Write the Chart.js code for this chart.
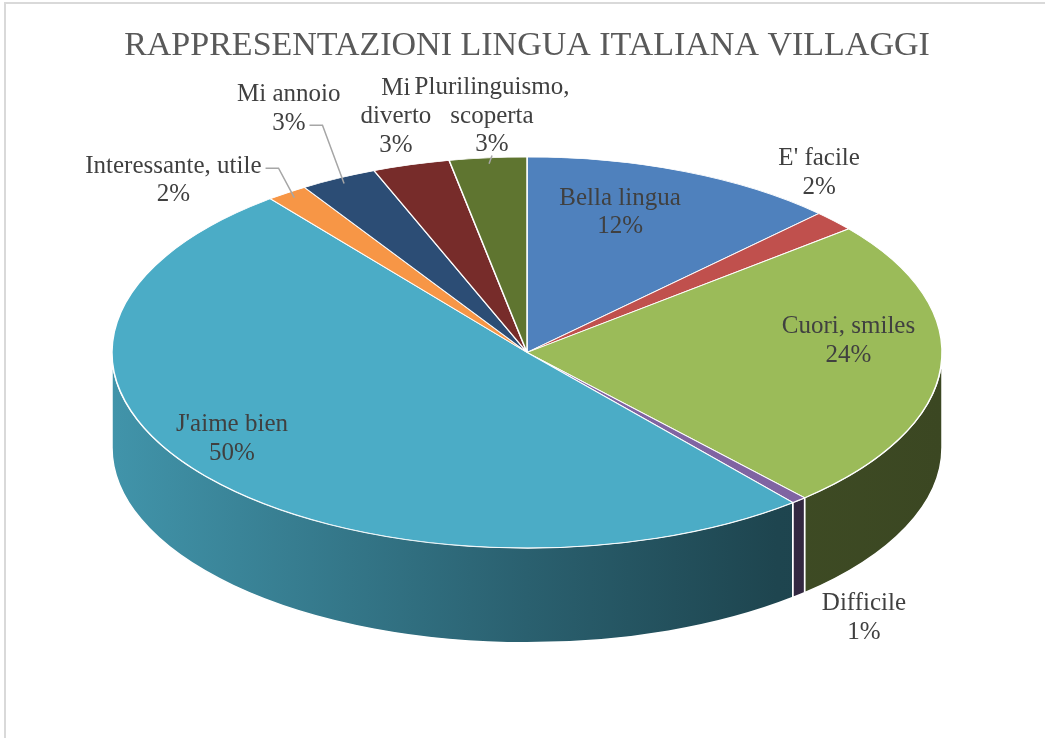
<!DOCTYPE html>
<html>
<head>
<meta charset="utf-8">
<script src="https://cdn.jsdelivr.net/npm/chart.js@4.4.1/dist/chart.umd.min.js"></script>
<style>
  html, body { margin: 0; padding: 0; background: #fff; }
  #wrap { position: relative; width: 1045px; height: 738px; overflow: hidden; }
  #frame { position: absolute; left: 4px; top: 2px; right: -10px; bottom: -10px; border-left: 2px solid #d9d9d9; border-top: 2px solid #d9d9d9; }
  canvas { position: absolute; left: 0; top: 0; }
</style>
</head>
<body>
<div id="wrap"><div id="frame"></div><canvas id="torta" width="1045" height="738"></canvas></div>
<script>
const titolo = 'RAPPRESENTAZIONI LINGUA ITALIANA VILLAGGI';
const categorie = ['Bella lingua', "E' facile", 'Cuori, smiles', 'Difficile', "J'aime bien",
  'Interessante, utile', 'Mi annoio', 'Mi diverto', 'Plurilinguismo, scoperta'];
const valori = [12.4, 1.7, 24.2, 0.6, 50.4, 1.6, 3.0, 3.0, 3.0];
const colori = ['#4f81bd', '#c0504d', '#9bbb59', '#8064a2', '#4bacc6', '#f79646', '#2c4d75', '#772c2a', '#5f7530'];

// where each label sits: radial factor in x and y from the slice middle
const posEtichette = [[0.59, 0.774], [0.951, 1.364], [0.777, -0.765], [1.24, 1.797], [0.915, 0.703],
  [1.474, 1.078], [1.263, 1.398], [1.131, 1.255], [0.895, 1.215]];
const larghezzaMax = [200, 200, 200, 200, 200, 200, 200, 90, 170];
const linee = [null, null, null, null, null, 'first', 'last', null, 'bottom'];

const SCHIACCIA = 0.471;   // tilt of the pie
const SPESSORE = 95;       // height of the side wall
const FONT = '"Liberation Serif", "Times New Roman", serif';

function scuro(hex, f) {
  const n = parseInt(hex.slice(1), 16);
  const r = Math.round(((n >> 16) & 255) * f);
  const g = Math.round(((n >> 8) & 255) * f);
  const b = Math.round((n & 255) * f);
  return `rgb(${r},${g},${b})`;
}

function avvolgi(ctx, testo, max) {
  const parole = testo.split(' ');
  const righe = [];
  let cur = '';
  parole.forEach(p => {
    const prova = cur ? cur + ' ' + p : p;
    if (cur && ctx.measureText(prova).width > max) {
      righe.push(cur);
      cur = p;
    } else cur = prova;
  });
  righe.push(cur);
  return righe;
}

const torta3d = {
  id: 'torta3d',
  beforeDatasetsDraw(chart) {
    const ctx = chart.ctx;
    const arcs = chart.getDatasetMeta(0).data;
    const cx = arcs[0].x, cy = arcs[0].y, R = arcs[0].outerRadius;
    const ry = R * SCHIACCIA;
    // side wall, only the front half is visible
    arcs.forEach((arc, i) => {
      const s = arc.startAngle, e = arc.endAngle;
      [[0, Math.PI], [2 * Math.PI, 3 * Math.PI]].forEach(([lo, hi]) => {
        const a1 = Math.max(s, lo), a2 = Math.min(e, hi);
        if (a2 <= a1) return;
        const grad = ctx.createLinearGradient(cx - R, 0, cx + R, 0);
        grad.addColorStop(0, scuro(colori[i], 0.86));
        grad.addColorStop(0.5, scuro(colori[i], 0.56));
        grad.addColorStop(0.8, scuro(colori[i], 0.4));
        grad.addColorStop(1, scuro(colori[i], 0.38));
        ctx.beginPath();
        ctx.ellipse(cx, cy, R, ry, 0, a1, a2);
        ctx.ellipse(cx, cy + SPESSORE, R, ry, 0, a2, a1, true);
        ctx.closePath();
        ctx.fillStyle = grad;
        ctx.fill();
        ctx.strokeStyle = '#ffffff';
        ctx.lineWidth = 1.5;
        ctx.stroke();
      });
    });
    ctx.save();
    ctx.translate(cx, cy);
    ctx.scale(1, SCHIACCIA);
    ctx.translate(-cx, -cy);
  },
  afterDatasetsDraw(chart) {
    const ctx = chart.ctx;
    ctx.restore();
    const arcs = chart.getDatasetMeta(0).data;
    const cx = arcs[0].x, cy = arcs[0].y, R = arcs[0].outerRadius;
    const ry = R * SCHIACCIA;
    const tot = valori.reduce((a, b) => a + b, 0);
    const h = 28.5;
    ctx.save();
    ctx.font = `25px ${FONT}`;
    ctx.fillStyle = '#404040';
    ctx.textAlign = 'center';
    ctx.textBaseline = 'middle';
    arcs.forEach((arc, i) => {
      const mid = (arc.startAngle + arc.endAngle) / 2;
      const lx = cx + Math.cos(mid) * R * posEtichette[i][0];
      const ly = cy + Math.sin(mid) * ry * posEtichette[i][1];
      const righe = avvolgi(ctx, categorie[i], larghezzaMax[i]);
      righe.push(Math.round(valori[i] / tot * 100) + '%');
      const y0 = ly - (righe.length - 1) * h / 2;
      righe.forEach((t, j) => ctx.fillText(t, lx, y0 + j * h));
      const tipo = linee[i];
      if (tipo) {
        const px = cx + Math.cos(mid) * R * 0.97;
        const py = cy + Math.sin(mid) * ry * 0.97;
        ctx.beginPath();
        ctx.strokeStyle = '#a6a6a6';
        ctx.lineWidth = 1.5;
        if (tipo === 'bottom') {
          ctx.moveTo(lx, y0 + (righe.length - 1) * h + 11);
          ctx.lineTo(px, py);
        } else {
          const j = tipo === 'first' ? 0 : righe.length - 1;
          const w = ctx.measureText(righe[j]).width;
          const sx = lx + w / 2 + 4, sy = y0 + j * h + 2;
          ctx.moveTo(sx, sy);
          ctx.lineTo(sx + 13, sy);
          ctx.lineTo(px, py);
        }
        ctx.stroke();
      }
    });
    ctx.restore();
  }
};

new Chart(document.getElementById('torta'), {
  type: 'pie',
  data: {
    labels: categorie,
    datasets: [{
      data: valori,
      backgroundColor: colori,
      borderColor: '#ffffff',
      borderWidth: 1.5,
      hoverOffset: 0,
      radius: 415,
      clip: false
    }]
  },
  options: {
    responsive: false,
    animation: false,
    radius: 415,
    layout: { padding: { left: 9, right: 0, top: 0, bottom: 110 } },
    plugins: {
      legend: { display: false },
      tooltip: { enabled: false },
      title: {
        display: true,
        text: titolo,
        color: '#595959',
        font: { family: FONT, size: 34, weight: 'normal' },
        padding: { top: 26, bottom: 10 }
      }
    }
  },
  plugins: [torta3d]
});
</script>
</body>
</html>
